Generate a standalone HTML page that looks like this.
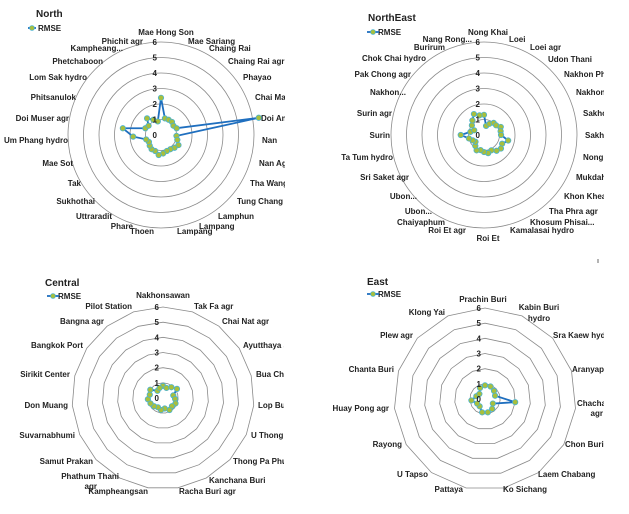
<!DOCTYPE html>
<html><head><meta charset="utf-8"><style>
html,body{margin:0;padding:0;background:#fff;}
svg{display:block;font-family:"Liberation Sans",sans-serif;}
text{font-size:8px;font-weight:bold;fill:#222;}
.t{font-size:10px;}
.n{font-size:8px;}
</style></head><body>
<svg id="s" width="629" height="514" viewBox="0 0 629 514">
<defs>
<clipPath id="c1"><rect x="0" y="0" width="285" height="257"/></clipPath>
<clipPath id="c2"><rect x="315" y="0" width="289" height="257"/></clipPath>
<clipPath id="c3"><rect x="0" y="257" width="284" height="257"/></clipPath>
<clipPath id="c4"><rect x="315" y="257" width="289" height="257"/></clipPath>
</defs>
<g id="g1" clip-path="url(#c1)">
<text class="t" x="36" y="17">North</text>
<text x="38" y="31">RMSE</text>
<text x="166" y="35" text-anchor="middle">Mae Hong Son</text>
<text x="188" y="44">Mae Sariang</text>
<text x="209" y="51">Chaing Rai</text>
<text x="228" y="64">Chaing Rai agr</text>
<text x="243" y="80">Phayao</text>
<text x="255" y="100">Chai Mai</text>
<text x="261" y="121">Doi Ang</text>
<text x="262" y="143">Nan</text>
<text x="259" y="166">Nan Agr</text>
<text x="250" y="186">Tha Wang</text>
<text x="237" y="204">Tung Chang</text>
<text x="218" y="219">Lamphun</text>
<text x="199" y="229">Lampang</text>
<text x="177" y="234">Lampang</text>
<text x="154" y="234" text-anchor="end">Thoen</text>
<text x="133" y="229" text-anchor="end">Phare</text>
<text x="112" y="219" text-anchor="end">Uttraradit</text>
<text x="95" y="204" text-anchor="end">Sukhothai</text>
<text x="81" y="186" text-anchor="end">Tak</text>
<text x="73" y="166" text-anchor="end">Mae Sot</text>
<text x="68" y="143" text-anchor="end">Um Phang hydro</text>
<text x="69" y="121" text-anchor="end">Doi Muser agr</text>
<text x="76" y="100" text-anchor="end">Phitsanulok</text>
<text x="87" y="80" text-anchor="end">Lom Sak hydro</text>
<text x="103" y="64" text-anchor="end">Phetchaboon</text>
<text x="123" y="51" text-anchor="end">Kampheang...</text>
<text x="143" y="44" text-anchor="end">Phichit agr</text>
</g>
<g id="g2" clip-path="url(#c2)">
<text class="t" x="368" y="21">NorthEast</text>
<text x="378" y="35">RMSE</text>
<text x="488" y="35" text-anchor="middle">Nong Khai</text>
<text x="509" y="42">Loei</text>
<text x="530" y="50">Loei agr</text>
<text x="548" y="62">Udon Thani</text>
<text x="564" y="77">Nakhon Phanom</text>
<text x="576" y="95">Nakhon</text>
<text x="583" y="116">Sakhon</text>
<text x="585" y="138">Sakhon</text>
<text x="583" y="160">Nong Khai</text>
<text x="576" y="180">Mukdahan</text>
<text x="564" y="199">Khon Khean</text>
<text x="549" y="214">Tha Phra agr</text>
<text x="530" y="225">Khosum Phisai...</text>
<text x="510" y="233">Kamalasai hydro</text>
<text x="488" y="241" text-anchor="middle">Roi Et</text>
<text x="466" y="233" text-anchor="end">Roi Et agr</text>
<text x="445" y="225" text-anchor="end">Chaiyaphum</text>
<text x="432" y="214" text-anchor="end">Ubon...</text>
<text x="417" y="199" text-anchor="end">Ubon...</text>
<text x="409" y="180" text-anchor="end">Sri Saket agr</text>
<text x="393" y="160" text-anchor="end">Ta Tum hydro</text>
<text x="390" y="138" text-anchor="end">Surin</text>
<text x="392" y="116" text-anchor="end">Surin agr</text>
<text x="406" y="95" text-anchor="end">Nakhon...</text>
<text x="411" y="77" text-anchor="end">Pak Chong agr</text>
<text x="426" y="61" text-anchor="end">Chok Chai hydro</text>
<text x="445" y="50" text-anchor="end">Burirum</text>
<text x="472" y="42" text-anchor="end">Nang Rong...</text>
</g>
<g id="g3" clip-path="url(#c3)">
<text class="t" x="45" y="286">Central</text>
<text x="58" y="299">RMSE</text>
<text x="163" y="298" text-anchor="middle">Nakhonsawan</text>
<text x="194" y="309">Tak Fa agr</text>
<text x="222" y="324">Chai Nat agr</text>
<text x="243" y="348">Ayutthaya agr</text>
<text x="256" y="377">Bua Chum</text>
<text x="258" y="408">Lop Buri</text>
<text x="251" y="438">U Thong agr</text>
<text x="233" y="464">Thong Pa Phum</text>
<text x="209" y="483">Kanchana Buri</text>
<text x="179" y="494">Racha Buri agr</text>
<text x="148" y="494" text-anchor="end">Kampheangsan</text>
<text x="119" y="479" text-anchor="end">Phathum Thani</text>
<text x="97" y="489" text-anchor="end">agr</text>
<text x="93" y="464" text-anchor="end">Samut Prakan</text>
<text x="75" y="438" text-anchor="end">Suvarnabhumi</text>
<text x="68" y="408" text-anchor="end">Don Muang</text>
<text x="70" y="377" text-anchor="end">Sirikit Center</text>
<text x="83" y="348" text-anchor="end">Bangkok Port</text>
<text x="104" y="324" text-anchor="end">Bangna agr</text>
<text x="132" y="309" text-anchor="end">Pilot Station</text>
</g>
<g id="g4" clip-path="url(#c4)">
<text class="t" x="367" y="285">East</text>
<text x="378" y="297">RMSE</text>
<text x="483" y="302" text-anchor="middle">Prachin Buri</text>
<text x="539" y="310" text-anchor="middle">Kabin Buri</text>
<text x="539" y="321" text-anchor="middle">hydro</text>
<text x="553" y="338">Sra Kaew hydro</text>
<text x="572" y="372">Aranyaprathet</text>
<text x="577" y="406">Chachaoengsao</text>
<text x="603" y="416" text-anchor="end">agr</text>
<text x="565" y="447">Chon Buri</text>
<text x="538" y="477">Laem Chabang</text>
<text x="503" y="492">Ko Sichang</text>
<text x="463" y="492" text-anchor="end">Pattaya</text>
<text x="428" y="477" text-anchor="end">U Tapso</text>
<text x="402" y="447" text-anchor="end">Rayong</text>
<text x="389" y="411" text-anchor="end">Huay Pong agr</text>
<text x="394" y="372" text-anchor="end">Chanta Buri</text>
<text x="413" y="338" text-anchor="end">Plew agr</text>
<text x="445" y="315" text-anchor="end">Klong Yai</text>
</g>
<line x1="598" y1="259" x2="598" y2="263" stroke="#444" stroke-width="0.8"/>
</svg>
<script>
(function(){
var NS="http://www.w3.org/2000/svg";
function el(p,n,a){var e=document.createElementNS(NS,n);for(var k in a)e.setAttribute(k,a[k]);p.appendChild(e);return e;}
var charts=[
 {g:"g1",cx:161,cy:135,r:93,circle:true,lx:[28,34],ly:28,
  d:[2.4,1.1,1.1,1.1,1.0,1.1,6.4,1.0,1.1,1.3,1.2,1.1,1.1,1.2,1.3,1.1,1.1,1.0,0.9,1.0,1.8,2.5,1.1,1.0,1.4,1.1,0.9]},
 {g:"g2",cx:484,cy:135,r:93,circle:true,lx:[367,377],ly:32,
  d:[1.3,0.6,0.8,1.0,1.0,1.2,1.1,1.1,1.6,1.3,1.4,1.3,1.1,1.2,1.1,1.0,1.1,0.9,0.7,0.8,1.0,1.5,0.9,0.7,1.0,1.2,1.5,1.3]},
 {g:"g3",cx:163,cy:398,r:91,circle:false,lx:[47,57],ly:296,
  d:[0.8,0.7,0.9,1.1,0.7,0.8,0.9,0.8,0.9,0.7,0.8,0.7,0.8,0.9,1.0,0.9,1.0,0.6,0.7]},
 {g:"g4",cx:485,cy:399,r:91,circle:false,lx:[367,377],ly:294,
  d:[0.9,0.9,0.8,0.7,2.0,0.6,0.8,0.9,0.9,0.6,0.6,0.9,0.6,0.5,0.8]}
];
charts.forEach(function(c){
 var g=document.getElementById(c.g),n=c.d.length,u=c.r/6;
 var first=g.firstChild;
 var gg=document.createElementNS(NS,"g");g.insertBefore(gg,first);
 for(var k=1;k<=6;k++){
  if(c.circle){el(gg,"circle",{cx:c.cx,cy:c.cy,r:k*u,fill:"none",stroke:"#8a8a8a","stroke-width":0.8});}
  else{var p=[];for(var i=0;i<n;i++){var a=i*2*Math.PI/n;p.push((c.cx+Math.sin(a)*k*u).toFixed(1)+","+(c.cy-Math.cos(a)*k*u).toFixed(1));}
   el(gg,"polygon",{points:p.join(" "),fill:"none",stroke:"#8a8a8a","stroke-width":0.8});}
 }
 var pts=[];
 for(var i=0;i<n;i++){var a=i*2*Math.PI/n;pts.push([c.cx+Math.sin(a)*c.d[i]*u,c.cy-Math.cos(a)*c.d[i]*u]);}
 el(g,"polygon",{points:pts.map(function(q){return q[0].toFixed(1)+","+q[1].toFixed(1)}).join(" "),fill:"none",stroke:"#1f6fbf","stroke-width":1.8});
 pts.forEach(function(q){el(g,"circle",{cx:q[0],cy:q[1],r:2.7,fill:"#a8bf3c",stroke:"#4bb3cf","stroke-width":0.8});});
 for(var k=0;k<=6;k++){var t=el(g,"text",{x:c.cx-4,y:c.cy-k*u+3,"text-anchor":"end","class":"n"});t.textContent=k;}
 el(g,"line",{x1:c.lx[0],y1:c.ly,x2:c.lx[1]+2,y2:c.ly,stroke:"#1f6fbf","stroke-width":1.8});
 el(g,"circle",{cx:(c.lx[0]+c.lx[1])/2+1,cy:c.ly,r:2.4,fill:"#a8bf3c",stroke:"#4bb3cf","stroke-width":0.8});
});
})();
</script>
</body></html>
